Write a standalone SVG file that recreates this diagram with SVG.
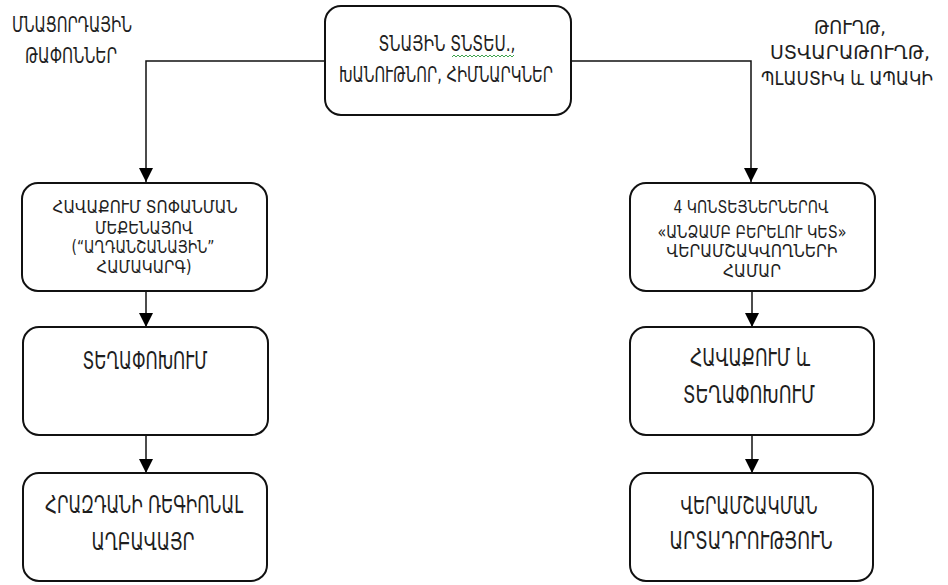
<svg xmlns="http://www.w3.org/2000/svg" width="948" height="585" viewBox="0 0 948 585">
<style>
.box{fill:#fff;stroke:#111;stroke-width:2}
.con{fill:none;stroke:#111;stroke-width:1.5}
text{font-family:"DejaVu Sans","Noto Sans",sans-serif;fill:#1e1e1e;text-anchor:middle}
.t16{font-size:22px}
.tr{font-size:19.5px}
.t13{font-size:18px}
.t13r{font-size:17px}
.t18{font-size:24px}
</style>
<defs>
<marker id="arr" viewBox="0 0 14 14" refX="14" refY="7" markerWidth="14" markerHeight="14" markerUnits="userSpaceOnUse" orient="auto">
<path d="M0,0 L14,7 L0,14 z" fill="#000"/>
</marker>
</defs>
<rect width="948" height="585" fill="#fff"/>
<g id="connectors">
<path class="con" d="M325,61 H146 V182" marker-end="url(#arr)"/>
<path class="con" d="M571,61 H751 V182" marker-end="url(#arr)"/>
<path class="con" d="M146,291 V327" marker-end="url(#arr)"/>
<path class="con" d="M752,291 V327" marker-end="url(#arr)"/>
<path class="con" d="M146,435 V473" marker-end="url(#arr)"/>
<path class="con" d="M752,435 V473" marker-end="url(#arr)"/>
</g>
<g id="label-left">
<text class="t16" x="72" y="32" textLength="120" lengthAdjust="spacingAndGlyphs">ՄՆԱՑՈՐԴԱՅԻՆ</text>
<text class="t16" x="71" y="63" textLength="92" lengthAdjust="spacingAndGlyphs">ԹԱՓՈՆՆԵՐ</text>
</g>
<g id="label-right">
<text class="tr" x="850" y="34" textLength="72" lengthAdjust="spacingAndGlyphs">ԹՈՒՂԹ,</text>
<text class="tr" x="850" y="59" textLength="160" lengthAdjust="spacingAndGlyphs">ՍՏՎԱՐԱԹՈՒՂԹ,</text>
<text class="tr" x="847" y="85" font-size="15.5" textLength="172" lengthAdjust="spacingAndGlyphs">ՊԼԱՍՏԻԿ և ԱՊԱԿԻ</text>
</g>
<g id="node-top">
<rect class="box" x="325" y="6" width="246" height="109" rx="16"/>
<text class="t16" x="447" y="51" textLength="137" lengthAdjust="spacingAndGlyphs">ՏՆԱՅԻՆ ՏՆՏԵՍ.,</text>
<path d="M452,57 l2,-2 l2,2 l2,-2 l2,2 l2,-2 l2,2 l2,-2 l2,2 l2,-2 l2,2 l2,-2 l2,2 l2,-2 l2,2 l2,-2 l2,2 l2,-2 l2,2 l2,-2 l2,2 l2,-2 l2,2 l2,-2 l2,2 l2,-2 l2,2 l2,-2 l2,2 l2,-2 l2,2 l2,-2" fill="none" stroke="#3fa34d" stroke-width="1"/>
<text class="t16" x="446" y="82" textLength="214" lengthAdjust="spacingAndGlyphs">ԽԱՆՈՒԹՆՈՐ, ՀԻՄՆԱՐԿՆԵՐ</text>
</g>
<g id="node-left-1">
<rect class="box" x="22" y="183" width="245" height="108" rx="16"/>
<text class="t13" x="145" y="213" textLength="185" lengthAdjust="spacingAndGlyphs">ՀԱՎԱՔՈՒՄ ՏՈՓԱՆՄԱՆ</text>
<text class="t13" x="144" y="234" textLength="98" lengthAdjust="spacingAndGlyphs">ՄԵՔԵՆԱՅՈՎ</text>
<text class="t13" x="143" y="253" textLength="143" lengthAdjust="spacingAndGlyphs">(“ԱՂԴԱՆՇԱՆԱՅԻՆ”</text>
<text class="t13" x="144" y="273" textLength="95" lengthAdjust="spacingAndGlyphs">ՀԱՄԱԿԱՐԳ)</text>
</g>
<g id="node-right-1">
<rect class="box" x="630" y="183" width="245" height="108" rx="16"/>
<text class="t13r" x="751" y="213" textLength="155" lengthAdjust="spacingAndGlyphs">4 ԿՈՆՏԵՅՆԵՐՆԵՐՈՎ</text>
<text class="t13r" x="752" y="238" textLength="189" lengthAdjust="spacingAndGlyphs">«ԱՆՁԱՄԲ ԲԵՐԵԼՈՒ ԿԵՏ»</text>
<text class="t13r" x="752" y="257" textLength="171" lengthAdjust="spacingAndGlyphs">ՎԵՐԱՄՇԱԿՎՈՂՆԵՐԻ</text>
<text class="t13r" x="752" y="277" textLength="58" lengthAdjust="spacingAndGlyphs">ՀԱՄԱՐ</text>
</g>
<g id="node-left-2">
<rect class="box" x="23" y="327" width="245" height="108" rx="16"/>
<text class="t18" x="145" y="369" textLength="125" lengthAdjust="spacingAndGlyphs">ՏԵՂԱՓՈԽՈՒՄ</text>
</g>
<g id="node-right-2">
<rect class="box" x="630" y="327" width="244" height="108" rx="16"/>
<text class="t18" x="750" y="366" textLength="120" lengthAdjust="spacingAndGlyphs">ՀԱՎԱՔՈՒՄ և</text>
<text class="t18" x="749" y="403" textLength="132" lengthAdjust="spacingAndGlyphs">ՏԵՂԱՓՈԽՈՒՄ</text>
</g>
<g id="node-left-3">
<rect class="box" x="23" y="473" width="244" height="108" rx="16"/>
<text class="t18" x="144" y="513" textLength="198" lengthAdjust="spacingAndGlyphs">ՀՐԱԶԴԱՆԻ ՌԵԳԻՈՆԱԼ</text>
<text class="t18" x="143" y="550" textLength="103" lengthAdjust="spacingAndGlyphs">ԱՂԲԱՎԱՅՐ</text>
</g>
<g id="node-right-3">
<rect class="box" x="630" y="473" width="243" height="108" rx="16"/>
<text class="t18" x="749" y="514" textLength="137" lengthAdjust="spacingAndGlyphs">ՎԵՐԱՄՇԱԿՄԱՆ</text>
<text class="t18" x="751" y="549" textLength="163" lengthAdjust="spacingAndGlyphs">ԱՐՏԱԴՐՈՒԹՅՈՒՆ</text>
</g>
</svg>
